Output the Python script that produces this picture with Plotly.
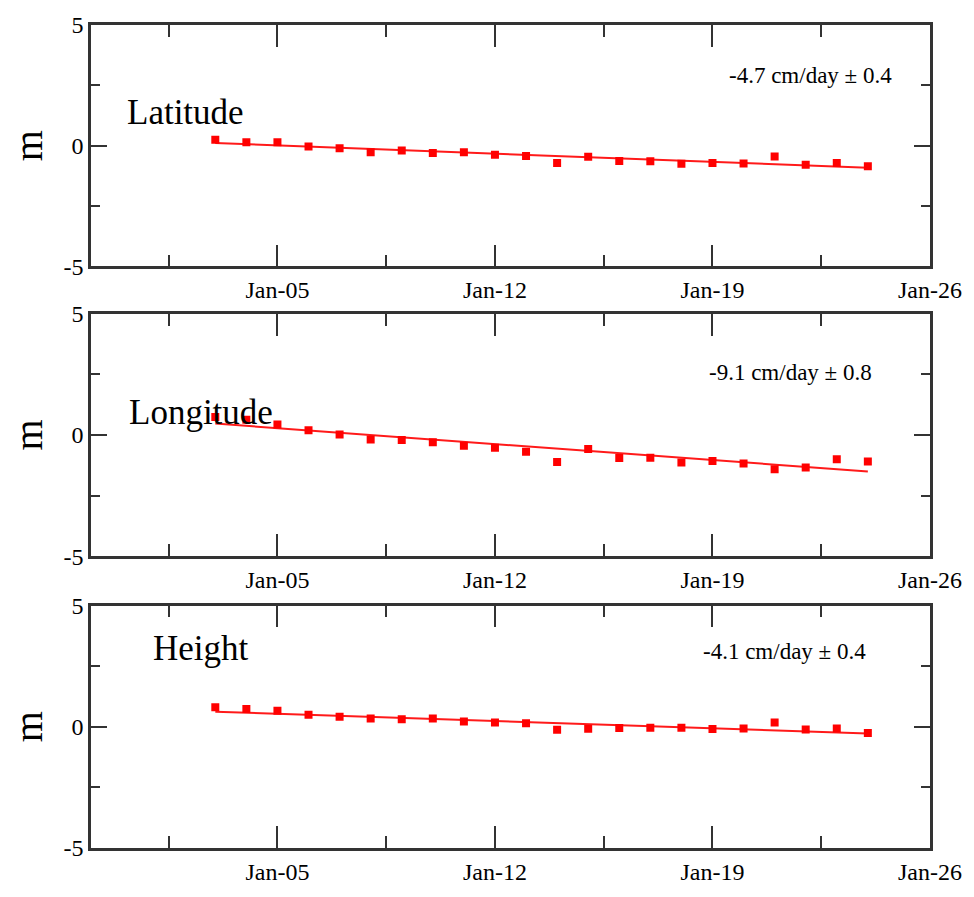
import plotly.graph_objects as go
import pandas as pd

# ---------------- data ----------------
dates = pd.date_range("2009-01-03", "2009-01-24", freq="D")
latitude = [0.25, 0.14, 0.14, -0.03, -0.10, -0.27, -0.20, -0.30, -0.27, -0.37,
            -0.42, -0.72, -0.46, -0.63, -0.64, -0.75, -0.71, -0.74, -0.45, -0.79, -0.71, -0.85]
longitude = [0.74, 0.63, 0.43, 0.20, 0.02, -0.18, -0.21, -0.30, -0.44, -0.53,
             -0.69, -1.11, -0.58, -0.95, -0.94, -1.13, -1.07, -1.17, -1.41, -1.34, -1.00, -1.09]
height = [0.80, 0.73, 0.66, 0.50, 0.41, 0.34, 0.31, 0.34, 0.22, 0.18,
          0.15, -0.12, -0.08, -0.05, -0.04, -0.04, -0.09, -0.07, 0.18, -0.11, -0.07, -0.26]
fit_dates = ["2009-01-03", "2009-01-24"]
fit_lat = [0.11, -0.91]
fit_lon = [0.47, -1.50]
fit_hgt = [0.62, -0.28]
names = ["Latitude", "Longitude", "Height"]
rates = ["-4.7 cm/day \u00b1 0.4", "-9.1 cm/day \u00b1 0.8", "-4.1 cm/day \u00b1 0.4"]
x_range = ["2008-12-30", "2009-01-26"]
y_ticks = [-5, 0, 5]

series = [latitude, longitude, height]
fits = [fit_lat, fit_lon, fit_hgt]

# ---------------- layout ----------------
domains = [[0.7066, 1.0], [0.3545, 0.6491], [0.0, 0.2946]]
label_pos = [(0.113, 0.639), (0.131, 0.593), (0.131, 0.821)]
rate_pos = [(0.858, 0.792), (0.834, 0.756), (0.826, 0.809)]

FONT = "Liberation Serif"
fig = go.Figure()
layout = dict(
    width=974, height=897,
    margin=dict(l=91, r=37, t=22, b=40),
    paper_bgcolor="white", plot_bgcolor="white",
    showlegend=False,
    font=dict(family=FONT, color="black"),
)
annotations = []
for i in range(3):
    xa = "x" if i == 0 else f"x{i+1}"
    ya = "y" if i == 0 else f"y{i+1}"
    fig.add_trace(go.Scatter(x=fit_dates, y=fits[i], mode="lines",
                             line=dict(color="#ff1a1a", width=2),
                             xaxis=xa, yaxis=ya))
    fig.add_trace(go.Scatter(x=dates, y=series[i], mode="markers",
                             marker=dict(symbol="square", size=8, color="#ff0000"),
                             xaxis=xa, yaxis=ya))
    xkey = "xaxis" if i == 0 else f"xaxis{i+1}"
    ykey = "yaxis" if i == 0 else f"yaxis{i+1}"
    layout[xkey] = dict(
        domain=[0, 1], anchor=ya, type="date", range=x_range,
        tickmode="linear", tick0="2009-01-05", dtick=7 * 86400000,
        tickformat="%b-%d", ticks="inside", ticklen=22, tickwidth=1.5,
        tickcolor="#333", showline=True, linecolor="#333", linewidth=2.5,
        mirror="allticks", showgrid=False, zeroline=False,
        tickfont=dict(family=FONT, size=24, color="black"),
        minor=dict(ticks="inside", ticklen=12, tickwidth=1.5, tickcolor="#333",
                   tick0="2009-01-01 12:00", dtick=3.5 * 86400000, showgrid=False),
    )
    layout[ykey] = dict(
        domain=domains[i], anchor=xa, range=[-5, 5],
        tickmode="array", tickvals=y_ticks, ticktext=[str(v) for v in y_ticks],
        ticks="inside", ticklen=16, tickwidth=1.5, tickcolor="#333",
        showline=True, linecolor="#333", linewidth=2.5, mirror="allticks",
        showgrid=False, zeroline=False,
        tickfont=dict(family=FONT, size=24, color="black"),
        minor=dict(ticks="inside", ticklen=9, tickwidth=1.5, tickcolor="#333",
                   tick0=0, dtick=2.5, showgrid=False),
    )
    dx = "x domain" if i == 0 else f"x{i+1} domain"
    dy = "y domain" if i == 0 else f"y{i+1} domain"
    annotations.append(dict(text=names[i], xref=dx, yref=dy,
                            x=label_pos[i][0], y=label_pos[i][1],
                            xanchor="center", yanchor="middle", showarrow=False,
                            font=dict(family=FONT, size=35, color="black")))
    annotations.append(dict(text=rates[i], xref=dx, yref=dy,
                            x=rate_pos[i][0], y=rate_pos[i][1],
                            xanchor="center", yanchor="middle", showarrow=False,
                            font=dict(family=FONT, size=23, color="black")))
    annotations.append(dict(text="m", xref="paper", yref=dy,
                            x=-0.0745, y=0.5, textangle=-90,
                            xanchor="center", yanchor="middle", showarrow=False,
                            font=dict(family=FONT, size=40, color="black")))
layout["annotations"] = annotations
fig.update_layout(**layout)
fig.write_html("out.html")
